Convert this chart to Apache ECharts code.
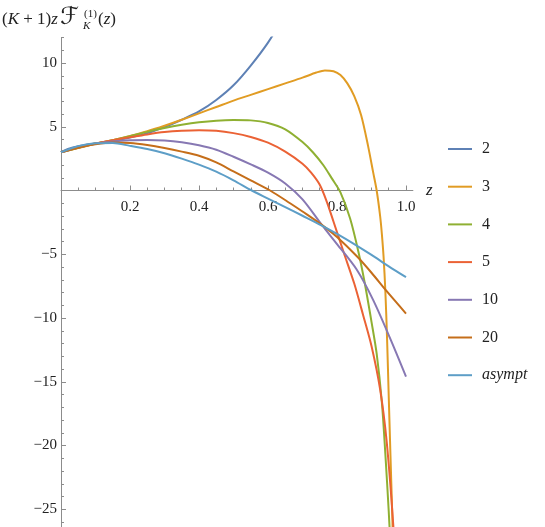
<!DOCTYPE html>
<html>
<head>
<meta charset="utf-8">
<script src="https://cdn.jsdelivr.net/npm/echarts@6.0.0/dist/echarts.min.js"></script>
<style>
  html, body { margin: 0; padding: 0; background: #fff; }
  #chart { width: 545px; height: 527px; }
</style>
</head>
<body>
<div id="chart"></div>
<script>
// values, one z list and one value list per K
var names = ['2', '3', '4', '5', '10', '20', 'asympt'];

var zK2 = [0, 0.02, 0.05, 0.1, 0.15, 0.2, 0.25, 0.3, 0.35, 0.4, 0.45, 0.5, 0.55, 0.6, 0.65];
var fK2 = [3.0, 3.25, 3.47, 3.7, 3.9, 4.15, 4.5, 4.98, 5.55, 6.2, 7.1, 8.25, 9.8, 11.6, 13.8];

var zK3 = [0, 0.05, 0.1, 0.15, 0.2, 0.25, 0.3, 0.35, 0.4, 0.45, 0.5, 0.55, 0.6, 0.65, 0.7, 0.74, 0.765, 0.79, 0.81, 0.83, 0.85, 0.87, 0.89, 0.905, 0.915, 0.925, 0.93, 0.935, 0.94, 0.945, 0.95, 0.955, 0.96, 0.965];
var fK3 = [3.0, 3.33, 3.66, 3.95, 4.28, 4.65, 5.08, 5.55, 6.05, 6.55, 7.05, 7.5, 7.95, 8.4, 8.85, 9.25, 9.42, 9.35, 9.05, 8.4, 7.4, 5.9, 3.5, 1.4, 0, -2.0, -3.4, -5.2, -7.8, -11.5, -16.2, -20.8, -25.3, -30.3];

var zK4 = [0, 0.05, 0.1, 0.15, 0.2, 0.25, 0.3, 0.35, 0.4, 0.45, 0.5, 0.55, 0.6, 0.65, 0.7, 0.73, 0.76, 0.785, 0.81, 0.838, 0.862, 0.88, 0.9, 0.915, 0.93, 0.94, 0.95, 0.96];
var fK4 = [3.0, 3.35, 3.68, 3.95, 4.25, 4.6, 4.9, 5.15, 5.35, 5.48, 5.53, 5.5, 5.3, 4.8, 3.8, 3.0, 2.0, 0.95, -0.15, -2.2, -4.8, -7.2, -10.3, -12.8, -16.6, -20.6, -25.2, -30.5];

var zK5 = [0, 0.05, 0.1, 0.15, 0.2, 0.25, 0.3, 0.35, 0.4, 0.45, 0.5, 0.55, 0.6, 0.65, 0.7, 0.725, 0.75, 0.77, 0.79, 0.82, 0.85, 0.876, 0.9, 0.925, 0.944, 0.963, 0.975];
var fK5 = [3.0, 3.38, 3.68, 3.95, 4.18, 4.4, 4.58, 4.68, 4.72, 4.68, 4.5, 4.2, 3.75, 3.05, 2.1, 1.4, 0.45, -0.85, -2.45, -4.9, -7.3, -9.8, -12.2, -15.6, -19.7, -26.2, -32];

var zK10 = [0, 0.05, 0.1, 0.15, 0.2, 0.25, 0.3, 0.35, 0.4, 0.45, 0.5, 0.55, 0.6, 0.65, 0.7, 0.756, 0.8, 0.857, 0.905, 0.954, 1.0];
var fK10 = [3.0, 3.38, 3.66, 3.85, 3.95, 3.97, 3.92, 3.78, 3.55, 3.2, 2.65, 2.05, 1.4, 0.55, -0.7, -2.7, -4.2, -6.2, -8.6, -11.6, -14.6];

var zK20 = [0, 0.05, 0.1, 0.15, 0.2, 0.25, 0.3, 0.35, 0.4, 0.45, 0.5, 0.55, 0.606, 0.664, 0.7, 0.756, 0.8, 0.859, 0.9, 0.944, 1.0];
var fK20 = [3.0, 3.36, 3.63, 3.76, 3.72, 3.56, 3.33, 3.05, 2.72, 2.2, 1.5, 0.8, 0, -1.0, -1.65, -2.7, -3.65, -5.2, -6.45, -7.9, -9.65];

var zAs = [0, 0.05, 0.1, 0.15, 0.2, 0.25, 0.3, 0.35, 0.4, 0.45, 0.5, 0.553, 0.6, 0.65, 0.7, 0.756, 0.8, 0.85, 0.9, 0.95, 1.0];
var fAs = [3.0, 3.48, 3.7, 3.72, 3.5, 3.25, 2.92, 2.5, 2.03, 1.48, 0.8, 0, -0.63, -1.3, -1.98, -2.75, -3.4, -4.2, -5.05, -5.95, -6.8];

// tick positions
var xMajor = [0.2, 0.4, 0.6, 0.8, 1.0];
var xMinor = [0.05, 0.1, 0.15, 0.25, 0.3, 0.35, 0.45, 0.5, 0.55, 0.65, 0.7, 0.75, 0.85, 0.9, 0.95];
var yMajor = [-25, -20, -15, -10, -5, 5, 10];
var yMinor = [-26, -24, -23, -22, -21, -19, -18, -17, -16, -14, -13, -12, -11, -9, -8, -7, -6,
  -4, -3, -2, -1, 1, 2, 3, 4, 6, 7, 8, 9, 11, 12];

var colors = ['#5e81b5', '#e19c24', '#8fb032', '#eb6235', '#8778b3', '#c56e1a', '#5d9ec7'];
var serif = '"Liberation Serif", "DejaVu Serif", serif';
var axisGray = '#8c8c8c';

// plot box: y = 12 at the top, y = -26.4 at the bottom edge
var yMin = -26.4, yMax = 12;
var gridTop = 37.5, gridH = 489.6;
// lift the x axis from the grid bottom up to y = 0
var zeroOffset = -gridH * (0 - yMin) / (yMax - yMin);

var zs = [zK2, zK3, zK4, zK5, zK10, zK20, zAs];
var fs = [fK2, fK3, fK4, fK5, fK10, fK20, fAs];

var series = names.map(function (n, i) {
  return {
    name: n,
    type: 'line',
    xAxisIndex: 0,
    yAxisIndex: 0,
    data: zs[i].map(function (z, j) { return [z, fs[i][j]]; }),
    symbol: 'none',
    smooth: 0.3,
    clip: true,
    lineStyle: { width: 2, color: colors[i] },
    itemStyle: { color: colors[i] }
  };
});

function fmtY(v) {
  return v < 0 ? '\u2212' + (-v) : String(v);
}

var chart = echarts.init(document.getElementById('chart'));
chart.setOption({
  animation: false,
  grid: { left: 61, top: gridTop, width: 351.9, height: gridH, containLabel: false, outerBoundsMode: 'none' },
  legend: {
    orient: 'vertical',
    left: 443,
    top: 136,
    icon: 'rect',
    itemWidth: 24,
    itemHeight: 2,
    itemGap: 21.7,
    data: names.map(function (n) {
      return n === 'asympt' ? { name: n, textStyle: { fontStyle: 'italic' } } : { name: n };
    }),
    textStyle: { fontFamily: serif, fontSize: 16, lineHeight: 16, color: '#222', padding: [0, 0, 0, 5] }
  },
  xAxis: [
    {
      type: 'value', min: 0, max: 1.02, position: 'bottom', offset: zeroOffset,
      name: 'z', nameLocation: 'end', nameGap: 13,
      nameTextStyle: { fontFamily: serif, fontStyle: 'italic', fontSize: 17, color: '#222', verticalAlign: 'middle' },
      axisLine: { onZero: false, lineStyle: { color: axisGray, width: 1 } },
      axisTick: { inside: true, length: 5, customValues: xMajor, lineStyle: { color: axisGray } },
      axisLabel: {
        customValues: xMajor, margin: 9, fontFamily: serif, fontSize: 15, color: '#222',
        formatter: function (v) { return v.toFixed(1); }
      },
      splitLine: { show: false }
    },
    {
      type: 'value', min: 0, max: 1.02, position: 'bottom', offset: zeroOffset,
      axisLine: { show: false, onZero: false },
      axisTick: { inside: true, length: 3, customValues: xMinor, lineStyle: { color: axisGray } },
      axisLabel: { show: false },
      splitLine: { show: false }
    }
  ],
  yAxis: [
    {
      type: 'value', min: yMin, max: yMax, position: 'left',
      axisLine: { onZero: false, lineStyle: { color: axisGray, width: 1 } },
      axisTick: { inside: true, length: 5, customValues: yMajor, lineStyle: { color: axisGray } },
      axisLabel: {
        customValues: yMajor, margin: 4, fontFamily: serif, fontSize: 15, color: '#222',
        formatter: fmtY
      },
      splitLine: { show: false }
    },
    {
      type: 'value', min: yMin, max: yMax, position: 'left',
      axisLine: { show: false, onZero: false },
      axisTick: { inside: true, length: 3, customValues: yMinor, lineStyle: { color: axisGray } },
      axisLabel: { show: false },
      splitLine: { show: false }
    }
  ],
  graphic: [
    {
      type: 'text', left: 2, top: 11,
      style: {
        text: '{n|(}{i|K}{n| + 1)}{i|z}',
        rich: {
          n: { fontFamily: serif, fontSize: 17, fill: '#222' },
          i: { fontFamily: serif, fontSize: 17, fontStyle: 'italic', fill: '#222' }
        }
      }
    },
    { type: 'text', left: 60, top: 6, style: { text: '\u2131', font: '24px "DejaVu Serif", "DejaVu Sans", serif', fill: '#222' } },
    { type: 'text', left: 84, top: 9, style: { text: '(1)', font: '11px ' + serif, fill: '#222' } },
    { type: 'text', left: 83, top: 21, style: { text: 'K', font: 'italic 11px ' + serif, fill: '#222' } },
    {
      type: 'text', left: 98, top: 11,
      style: {
        text: '{n|(}{i|z}{n|)}',
        rich: {
          n: { fontFamily: serif, fontSize: 17, fill: '#222' },
          i: { fontFamily: serif, fontSize: 17, fontStyle: 'italic', fill: '#222' }
        }
      }
    }
  ],
  series: series
});
</script>
</body>
</html>
